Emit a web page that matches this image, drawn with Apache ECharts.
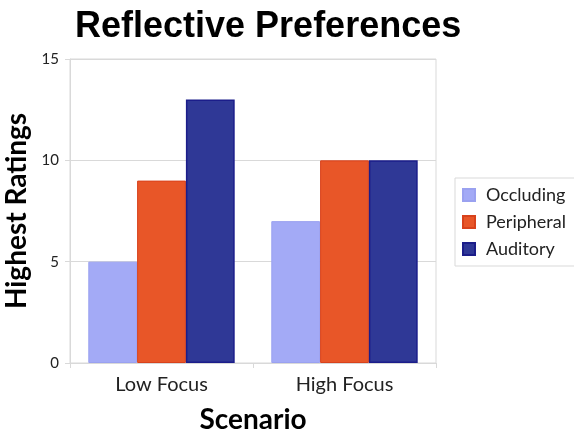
<!DOCTYPE html>
<html>
<head>
<meta charset="utf-8">
<title>Reflective Preferences</title>
<script src="https://cdn.jsdelivr.net/npm/echarts@6/dist/echarts.min.js"></script>
<style>
  html, body { margin: 0; padding: 0; background: #fff; }
  #chart { width: 574px; height: 434px; }
</style>
</head>
<body>
<div id="chart"></div>
<script>
// data
const scenarios = ['Low Focus', 'High Focus']
const occluding = [5, 7]
const peripheral = [9, 10]
const auditory = [13, 10]
const yTicks = [0, 5, 10, 15]

const gridColor = '#d9d9d9'
const labelFont = 'Lato, "Open Sans", sans-serif'

const chartInstance = echarts.init(document.getElementById('chart'))

const initOption = {
    animation: false,
    title: {
        text: 'Reflective Preferences',
        left: 70,
        top: 4,
        textStyle: {
            fontFamily: '"Liberation Sans", Arial, sans-serif',
            fontWeight: 'bold',
            fontSize: 36,
            color: '#000'
        }
    },
    grid: {
        left: 70,
        right: 138,
        top: 59,
        bottom: 71,
        outerBoundsMode: 'none',
        containLabel: false,
        show: true,
        borderColor: gridColor,
        borderWidth: 1
    },
    legend: {
        orient: 'vertical',
        left: 455,
        top: 178,
        padding: [8, 12, 8, 7],
        itemGap: 9,
        itemWidth: 12,
        itemHeight: 12,
        icon: 'rect',
        borderColor: gridColor,
        borderWidth: 1,
        textStyle: {
            fontFamily: labelFont,
            fontSize: 18,
            color: '#222',
            padding: [0, 0, 0, 6]
        },
        data: ['Occluding', 'Peripheral', 'Auditory']
    },
    xAxis: {
        type: 'category',
        data: scenarios,
        name: 'Scenario',
        nameLocation: 'middle',
        nameGap: 43,
        nameTextStyle: {
            fontFamily: labelFont,
            fontWeight: 'bold',
            fontSize: 28,
            color: '#000'
        },
        axisLine: {
            lineStyle: { color: gridColor }
        },
        axisTick: {
            show: true,
            length: 5,
            lineStyle: { color: gridColor }
        },
        axisLabel: {
            margin: 12,
            fontFamily: labelFont,
            fontSize: 20,
            color: '#222'
        }
    },
    yAxis: {
        type: 'value',
        min: yTicks[0],
        max: yTicks[yTicks.length - 1],
        interval: 5,
        name: 'Highest Ratings',
        nameLocation: 'middle',
        nameGap: 36,
        nameTextStyle: {
            fontFamily: labelFont,
            fontWeight: 'bold',
            fontSize: 28,
            color: '#000'
        },
        axisLine: {
            show: true,
            lineStyle: { color: gridColor }
        },
        axisTick: {
            show: true,
            length: 5,
            lineStyle: { color: gridColor }
        },
        splitLine: {
            lineStyle: { color: gridColor }
        },
        axisLabel: {
            margin: 11,
            fontFamily: labelFont,
            fontSize: 15,
            color: '#222'
        }
    },
    series: [
        {
            name: 'Occluding',
            type: 'bar',
            data: occluding,
            barGap: '0%',
            barCategoryGap: '20%',
            itemStyle: {
                color: '#a3aaf6',
                borderColor: '#9aa1f0',
                borderWidth: 1
            }
        },
        {
            name: 'Peripheral',
            type: 'bar',
            data: peripheral,
            barGap: '0%',
            barCategoryGap: '20%',
            itemStyle: {
                color: '#e85628',
                borderColor: '#d8421c',
                borderWidth: 1
            }
        },
        {
            name: 'Auditory',
            type: 'bar',
            data: auditory,
            barGap: '0%',
            barCategoryGap: '20%',
            itemStyle: {
                color: '#2f3896',
                borderColor: '#1b1d8a',
                borderWidth: 1.5
            }
        }
    ]
}
chartInstance.setOption(initOption)
</script>
</body>
</html>
